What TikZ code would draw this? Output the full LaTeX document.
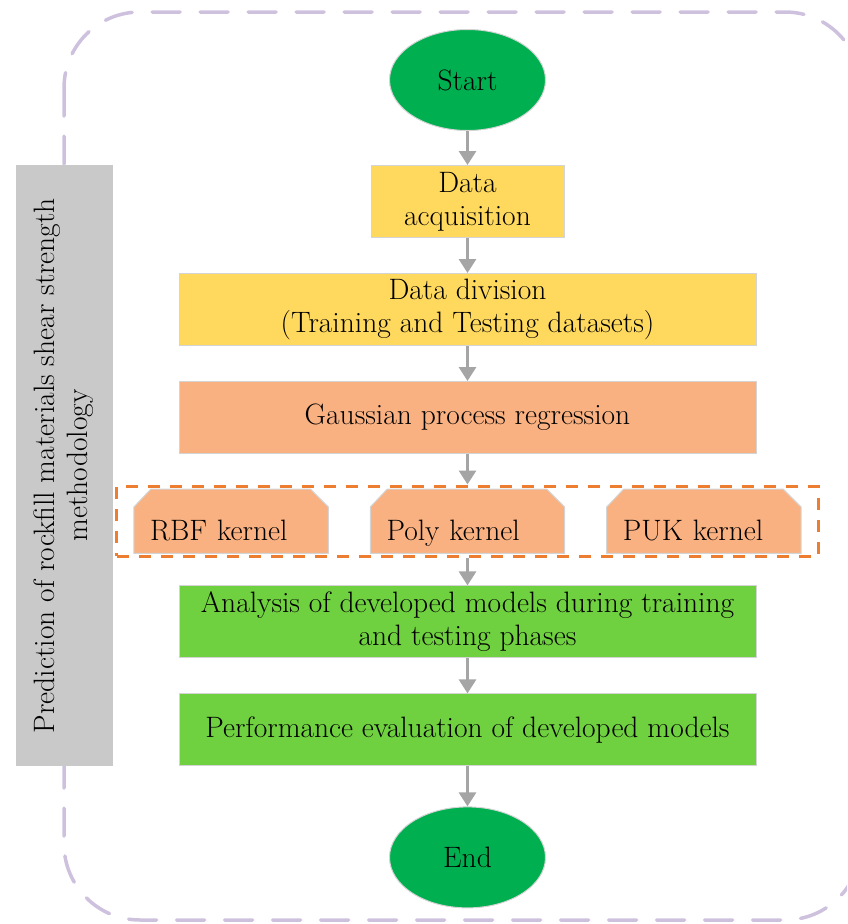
\documentclass[tikz,border=0pt]{standalone}
\usetikzlibrary{arrows.meta,positioning,fit,shapes.geometric,backgrounds}
\definecolor{termgreen}{RGB}{0,176,80}
\definecolor{stepyellow}{RGB}{255,217,94}
\definecolor{steporange}{RGB}{250,177,129}
\definecolor{stepgreen}{RGB}{111,208,64}
\definecolor{sidegray}{RGB}{201,201,201}
\definecolor{arrowgray}{RGB}{165,165,165}
\definecolor{edgegray}{RGB}{212,212,212}
\definecolor{framelilac}{RGB}{206,193,222}
\definecolor{kernelline}{RGB}{237,125,49}
\tikzset{
    term/.style =   {ellipse,
                    fill=termgreen,
                    draw=edgegray,
                    text=black,
                    line width=1pt,
                    minimum width=156pt,
                    minimum height=101pt},
    stepbox/.style = {rectangle,
                    draw=edgegray,
                    text=black,
                    line width=1pt,
                    align=center,
                    minimum height=72pt},
    widebox/.style = {stepbox,
                    minimum width=577pt},
    kernel/.style = {rectangle,
                    text=black,
                    align=left,
                    text width=162pt,
                    text height=45pt,
                    text depth=7pt,
                    inner xsep=16pt,
                    inner ysep=6pt,
                    minimum width=194pt,
                    minimum height=64pt},
    kernelshape/.style = {fill=steporange,
                    draw=edgegray,
                    line width=1pt},
    sidebox/.style = {rectangle,
                    fill=sidegray,
                    text=black,
                    align=center,
                    minimum width=97pt,
                    minimum height=601pt},
    -,
    flow/.style =   {color=arrowgray,
                    line width=3pt,
                    -{Triangle[length=14pt,width=17pt]}},
    frame/.style =  {draw=framelilac,
                    line width=3.5pt,
                    line cap=round,
                    dash pattern=on 28pt off 20pt,
                    rounded corners=76pt},
    kernelframe/.style = {draw=kernelline,
                    line width=3pt,
                    dash pattern=on 12pt off 10pt,
                    inner xsep=17pt,
                    inner ysep=3pt}}
\begin{document}
\begin{tikzpicture}[x=1pt,y=1pt,every node/.append style={font=\fontsize{29.5}{33}\selectfont}]
                \useasboundingbox (0,0) rectangle (847,-924);
                \clip (0,0) rectangle (847,-924);
                \draw[frame] (64,-12) rectangle (861,-920);
                \node[sidebox]      (side) at (64.5,-465.5) {\rotatebox{90}{\begin{tabular}{c}Prediction of rockfill materials shear strength\\methodology\end{tabular}}};
                \node[term]         (start) at (467.5,-80)     {Start};
                \node[stepbox,fill=stepyellow,minimum width=193pt] (acq) [below=34pt of start] {Data\\acquisition};
                \node[widebox,fill=stepyellow]  (div)  [below=35pt of acq]  {Data division\\(Training and Testing datasets)};
                \node[widebox,fill=steporange]  (gpr)  [below=35pt of div]  {Gaussian process regression};
                \node[kernel]       (poly) [below=35pt of gpr]  {Poly kernel};
                \node[kernel]       (rbf)  [left=42pt of poly]  {RBF kernel};
                \node[kernel]       (puk)  [right=42pt of poly] {PUK kernel};
                \node[kernelframe,fit=(rbf)(poly)(puk)] (kset) {};
                \node[widebox,fill=stepgreen]   (ana)  [below=32pt of poly] {Analysis of developed models during training\\and testing phases};
                \node[widebox,fill=stepgreen]   (perf) [below=35pt of ana]  {Performance evaluation of developed models};
                \node[term]         (end)  [below=40pt of perf] {End};
                % chamfered kernel boxes behind their labels
                \begin{scope}[on background layer]
                    \foreach \k in {rbf,poly,puk}
                        \draw[kernelshape] (\k.south west) -- ([yshift=-18pt]\k.north west) -- ([xshift=17pt]\k.north west)
                            -- ([xshift=-18pt]\k.north east) -- ([yshift=-18pt]\k.north east) -- (\k.south east) -- cycle;
                \end{scope}
                \path [flow]    (start) edge (acq)
                                (acq)   edge (div)
                                (div)   edge (gpr)
                                (gpr)   edge (kset)
                                (kset)  edge (ana)
                                (ana)   edge (perf)
                                (perf)  edge (end);
\end{tikzpicture}
\end{document}
